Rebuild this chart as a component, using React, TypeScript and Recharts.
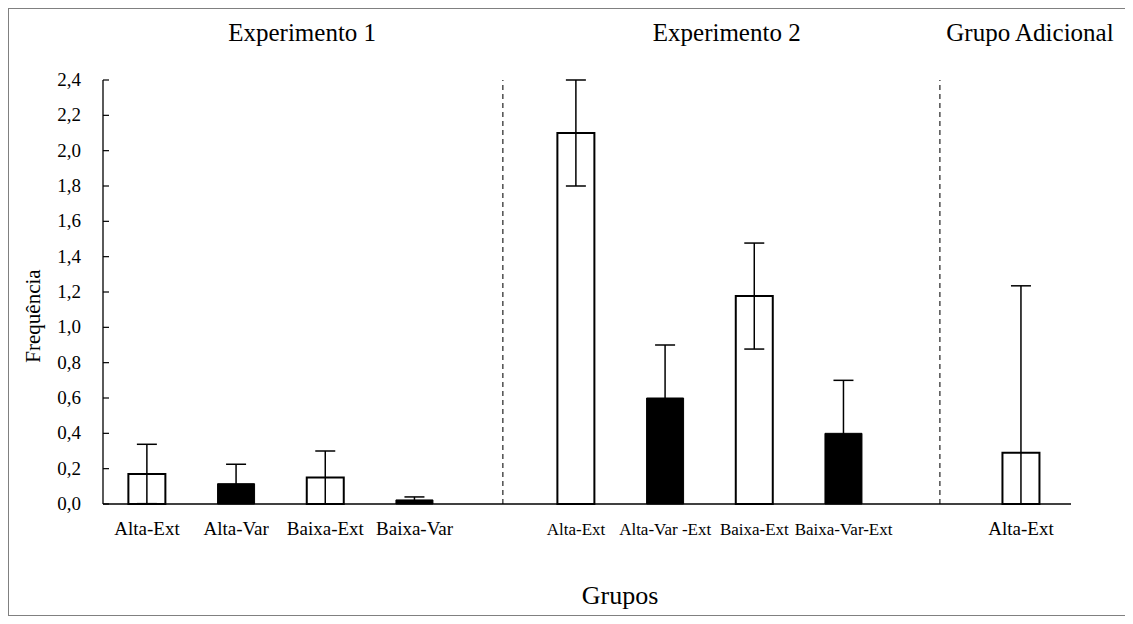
import { ComposedChart, Bar, XAxis, YAxis, ErrorBar, ReferenceLine, Cell } from "recharts";

// groups and categories
const groups = ["Experimento 1", "Experimento 2", "Grupo Adicional"];
const categories = [
  "Alta-Ext",
  "Alta-Var",
  "Baixa-Ext",
  "Baixa-Var",
  "Alta-Ext",
  "Alta-Var -Ext",
  "Baixa-Ext",
  "Baixa-Var-Ext",
  "Alta-Ext",
];
const categoryGroup = [0, 0, 0, 0, 1, 1, 1, 1, 2];
const frequencia = [0.17, 0.115, 0.15, 0.023, 2.1, 0.6, 1.177, 0.4, 0.29];
const erro = [0.168, 0.11, 0.15, 0.017, 0.3, 0.3, 0.3, 0.3, 0.945];
const yTicks = [0, 0.2, 0.4, 0.6, 0.8, 1.0, 1.2, 1.4, 1.6, 1.8, 2.0, 2.2, 2.4];

// layout (slot units along the x axis)
const GROUP_OFFSET = [0, 4.81, 9.8];
const X_DOMAIN: [number, number] = [-0.493, 10.36];
const DIVIDERS = [3.99, 8.89];
const TITLE_SHIFT = [0.24, 0.19, 0.1];

const FONT = "'Liberation Serif', 'Times New Roman', serif";

const rows = categories.map((name, i) => {
  const g = categoryGroup[i];
  const first = categoryGroup.indexOf(g);
  return {
    pos: GROUP_OFFSET[g] + (i - first),
    name,
    valor: frequencia[i],
    // lower whisker stops at the axis like in the original
    erro: [Math.min(erro[i], frequencia[i]), erro[i]],
  };
});
const positions = rows.map((r) => r.pos);

const titlePositions = groups.map((_, g) => {
  const p = rows.filter((_, i) => categoryGroup[i] === g).map((r) => r.pos);
  return p.reduce((a, b) => a + b, 0) / p.length + TITLE_SHIFT[g];
});

function nearest(list: number[], v: number) {
  let best = 0;
  list.forEach((p, i) => {
    if (Math.abs(p - v) < Math.abs(list[best] - v)) best = i;
  });
  return best;
}

function CategoryTick(props: any) {
  const { x, y, payload } = props;
  const i = nearest(positions, Number(payload.value));
  const size = categoryGroup[i] === 1 ? 17 : 19;
  return (
    <text x={x} y={y + 31} textAnchor="middle" fontSize={size} fontFamily={FONT} fill="#000">
      {categories[i]}
    </text>
  );
}

function TitleTick(props: any) {
  const { x, y, payload } = props;
  const g = nearest(titlePositions, Number(payload.value));
  return (
    <text x={x} y={y - 39} textAnchor="middle" fontSize={25} fontFamily={FONT} fill="#000">
      {groups[g]}
    </text>
  );
}

function FreqTick(props: any) {
  const { x, y, payload } = props;
  return (
    <g>
      <line x1={x + 22} x2={x + 28} y1={y} y2={y} stroke="#000" strokeWidth={1.2} />
      <text x={x} y={y} dy={6} textAnchor="end" fontSize={19} fontFamily={FONT} fill="#000">
        {Number(payload.value).toFixed(1).replace(".", ",")}
      </text>
    </g>
  );
}

function FreqLabel(props: any) {
  const { viewBox } = props;
  const cx = viewBox.x + 24;
  const cy = viewBox.y + viewBox.height / 2 + 24;
  return (
    <text
      x={cx}
      y={cy}
      transform={`rotate(-90 ${cx} ${cy})`}
      textAnchor="middle"
      dominantBaseline="central"
      fontSize={21}
      fontFamily={FONT}
      fill="#000"
    >
      Frequência
    </text>
  );
}

function GruposLabel(props: any) {
  const { viewBox } = props;
  return (
    <text
      x={viewBox.x + viewBox.width / 2 + 33}
      y={viewBox.y + 100}
      textAnchor="middle"
      fontSize={26}
      fontFamily={FONT}
      fill="#000"
    >
      Grupos
    </text>
  );
}

export default function App() {
  return (
    <div style={{ width: 1116, height: 606, border: "1px solid #808080", background: "#fff" }}>
      <ComposedChart
        width={1116}
        height={606}
        data={rows}
        margin={{ top: 0, right: 54, left: 0, bottom: 0 }}
      >
        <XAxis
          xAxisId="top"
          dataKey="pos"
          orientation="top"
          type="number"
          domain={X_DOMAIN}
          allowDataOverflow
          ticks={titlePositions}
          interval={0}
          height={71}
          axisLine={false}
          tickLine={false}
          tickSize={0}
          tickMargin={0}
          tick={<TitleTick />}
        />
        <XAxis
          dataKey="pos"
          type="number"
          domain={X_DOMAIN}
          allowDataOverflow
          ticks={positions}
          interval={0}
          height={111}
          axisLine={{ stroke: "#000", strokeWidth: 1.3 }}
          tickLine={false}
          tickSize={0}
          tickMargin={0}
          tick={<CategoryTick />}
          label={<GruposLabel />}
        />
        <YAxis
          type="number"
          domain={[0, 2.4]}
          ticks={yTicks}
          interval={0}
          width={94}
          axisLine={{ stroke: "#000", strokeWidth: 1.3 }}
          tickLine={false}
          tickSize={0}
          tickMargin={22}
          tick={<FreqTick />}
          label={<FreqLabel />}
        />
        {DIVIDERS.map((d) => (
          <ReferenceLine key={d} x={d} stroke="#333" strokeWidth={1.3} strokeDasharray="5 4" />
        ))}
        <Bar dataKey="valor" barSize={37} isAnimationActive={false}>
          {rows.map((r, i) => {
            const dark = r.name.includes("Var");
            return (
              <Cell
                key={i}
                fill={dark ? "#000" : "#fff"}
                stroke="#000"
                strokeWidth={dark ? 1 : 2}
              />
            );
          })}
          <ErrorBar dataKey="erro" width={10} stroke="#000" strokeWidth={1.5} direction="y" />
        </Bar>
      </ComposedChart>
    </div>
  );
}
